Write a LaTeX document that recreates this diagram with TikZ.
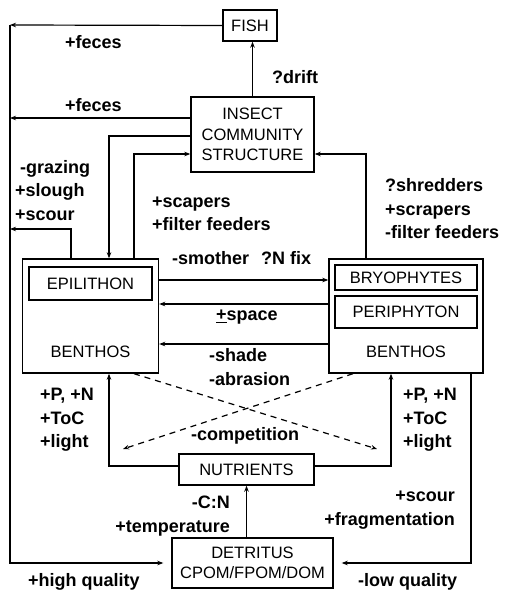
\documentclass[tikz,border=0pt]{standalone}
\usepackage{fontspec}
\setmainfont{Liberation Sans}
\usetikzlibrary{arrows.meta}

\begin{document}
\begin{tikzpicture}[
    x=1pt, y=-1pt,
    >={Stealth[length=6pt,width=4.5pt]},
    box/.style={rectangle, draw, line width=1.4pt, align=center, inner sep=0pt, font=\fontsize{16.5}{20.5}\selectfont},
    boxtitle/.style={inner sep=0pt, font=\fontsize{16.5}{20.5}\selectfont},
    lbl/.style={font=\bfseries\fontsize{18}{23.5}\selectfont, align=left, inner sep=0pt, anchor=west},
    link/.style={->, line width=1.2pt},
]
\useasboundingbox (0,0) rectangle (505,596);

% boxes
\node[box, minimum width=54pt, minimum height=31pt] (fish) at (250,25.5) {FISH};
\node[box, minimum width=123pt, minimum height=75pt] (insect) at (252.5,134.5) {INSECT\\COMMUNITY\\STRUCTURE};

\node[box, minimum width=136pt, minimum height=114pt] (lbenthos) at (90.5,316) {};
\node[box, minimum width=123pt, minimum height=33pt] (epi) at (90.5,283.5) {EPILITHON};
\node[boxtitle] (lbname) at (90.5,352) {BENTHOS};

\node[box, minimum width=154pt, minimum height=114pt] (rbenthos) at (406,316) {};
\node[box, minimum width=142pt, minimum height=25pt] (bryo) at (406,277.5) {BRYOPHYTES};
\node[box, minimum width=142pt, minimum height=32pt] (peri) at (406,312) {PERIPHYTON};
\node[boxtitle] (rbname) at (406,352) {BENTHOS};

\node[box, minimum width=135pt, minimum height=31pt] (nutrients) at (246.5,469.5) {NUTRIENTS};
\node[box, minimum width=161pt, minimum height=50pt] (detritus) at (252.5,563) {DETRITUS\\CPOM/FPOM/DOM};

% free ends
\coordinate (lft) at (10,25);
\coordinate (scourend) at (10,229);
\coordinate (cmpR) at (377,449);
\coordinate (cmpL) at (123,449);
\coordinate (ins1) at ([yshift=16.5pt]insect.west);

% connectors
\draw[link] (fish.west) -- (lft);
\draw[link] (lft) |- ([xshift=-8pt]detritus.west);
\draw[link] (insect.north) -- (insect.north |- fish.south);
\draw[link] (ins1) -- (ins1 -| lft);
\draw[link] ([yshift=-1.5pt]insect.west) -| ([xshift=18.5pt]lbenthos.north);
\draw[link] ([xshift=43.5pt]lbenthos.north) |- ([yshift=-19.5pt]insect.west);
\draw[link] ([xshift=-40pt]rbenthos.north) |- ([yshift=-19.5pt]insect.east);
\draw[link] ([xshift=-19.5pt]lbenthos.north) |- (scourend);

\draw[link] ([yshift=36pt]lbenthos.east) -- ([yshift=36pt]rbenthos.west);
\draw[link] ([yshift=12pt]rbenthos.west) -- ([yshift=12pt]lbenthos.east);
\draw[link] ([yshift=-28pt]rbenthos.west) -- ([yshift=-28pt]lbenthos.east);

\draw[link, dash pattern=on 6pt off 5pt] ([xshift=43.5pt]lbenthos.south) -- (cmpR);
\draw[link, dash pattern=on 6pt off 5pt] ([xshift=-53pt]rbenthos.south) -- (cmpL);

\draw[link] ([yshift=3.5pt]nutrients.west) -| ([xshift=18.5pt]lbenthos.south);
\draw[link] ([yshift=3.5pt]nutrients.east) -| ([xshift=-15pt]rbenthos.south);
\draw[link] (detritus.north -| nutrients.south) -- (nutrients.south);
\draw[link] ([xshift=65pt]rbenthos.south) |- ([xshift=8pt]detritus.east);

% labels
\node[lbl] (feces1) at (65,42) {+feces};
\node[lbl] (drift) at (272,77) {?drift};
\node[lbl] (feces2) at (65,105) {+feces};
\node[lbl] (graze) at (15,190.5) {\hspace*{5pt}-grazing\\+slough\\+scour};
\node[lbl] (scap) at (152,214) {+scapers\\+filter feeders};
\node[lbl] (shred) at (385,209) {?shredders\\+scrapers\\-filter feeders};
\node[lbl] (smother) at (172,258) {-smother\hspace{7pt} ?N fix};
\node[lbl] (space) at (216,317) {\underline{+}space};
\node[lbl] (shade) at (209,367) {-shade\\-abrasion};
\node[lbl] (pnL) at (40,420) {+P, +N\\+ToC\\+light};
\node[lbl] (pnR) at (403,420) {+P, +N\\+ToC\\+light};
\node[lbl] (compet) at (191,436) {-competition};
\node[lbl, anchor=east, align=right] (cn) at (230,516) {-C:N\\+temperature};
\node[lbl, anchor=east, align=right] (frag) at (455,510) {+scour\\+fragmentation};
\node[lbl] (hiq) at (28,582) {+high quality};
\node[lbl] (loq) at (358,582) {-low quality};

\end{tikzpicture}
\end{document}
